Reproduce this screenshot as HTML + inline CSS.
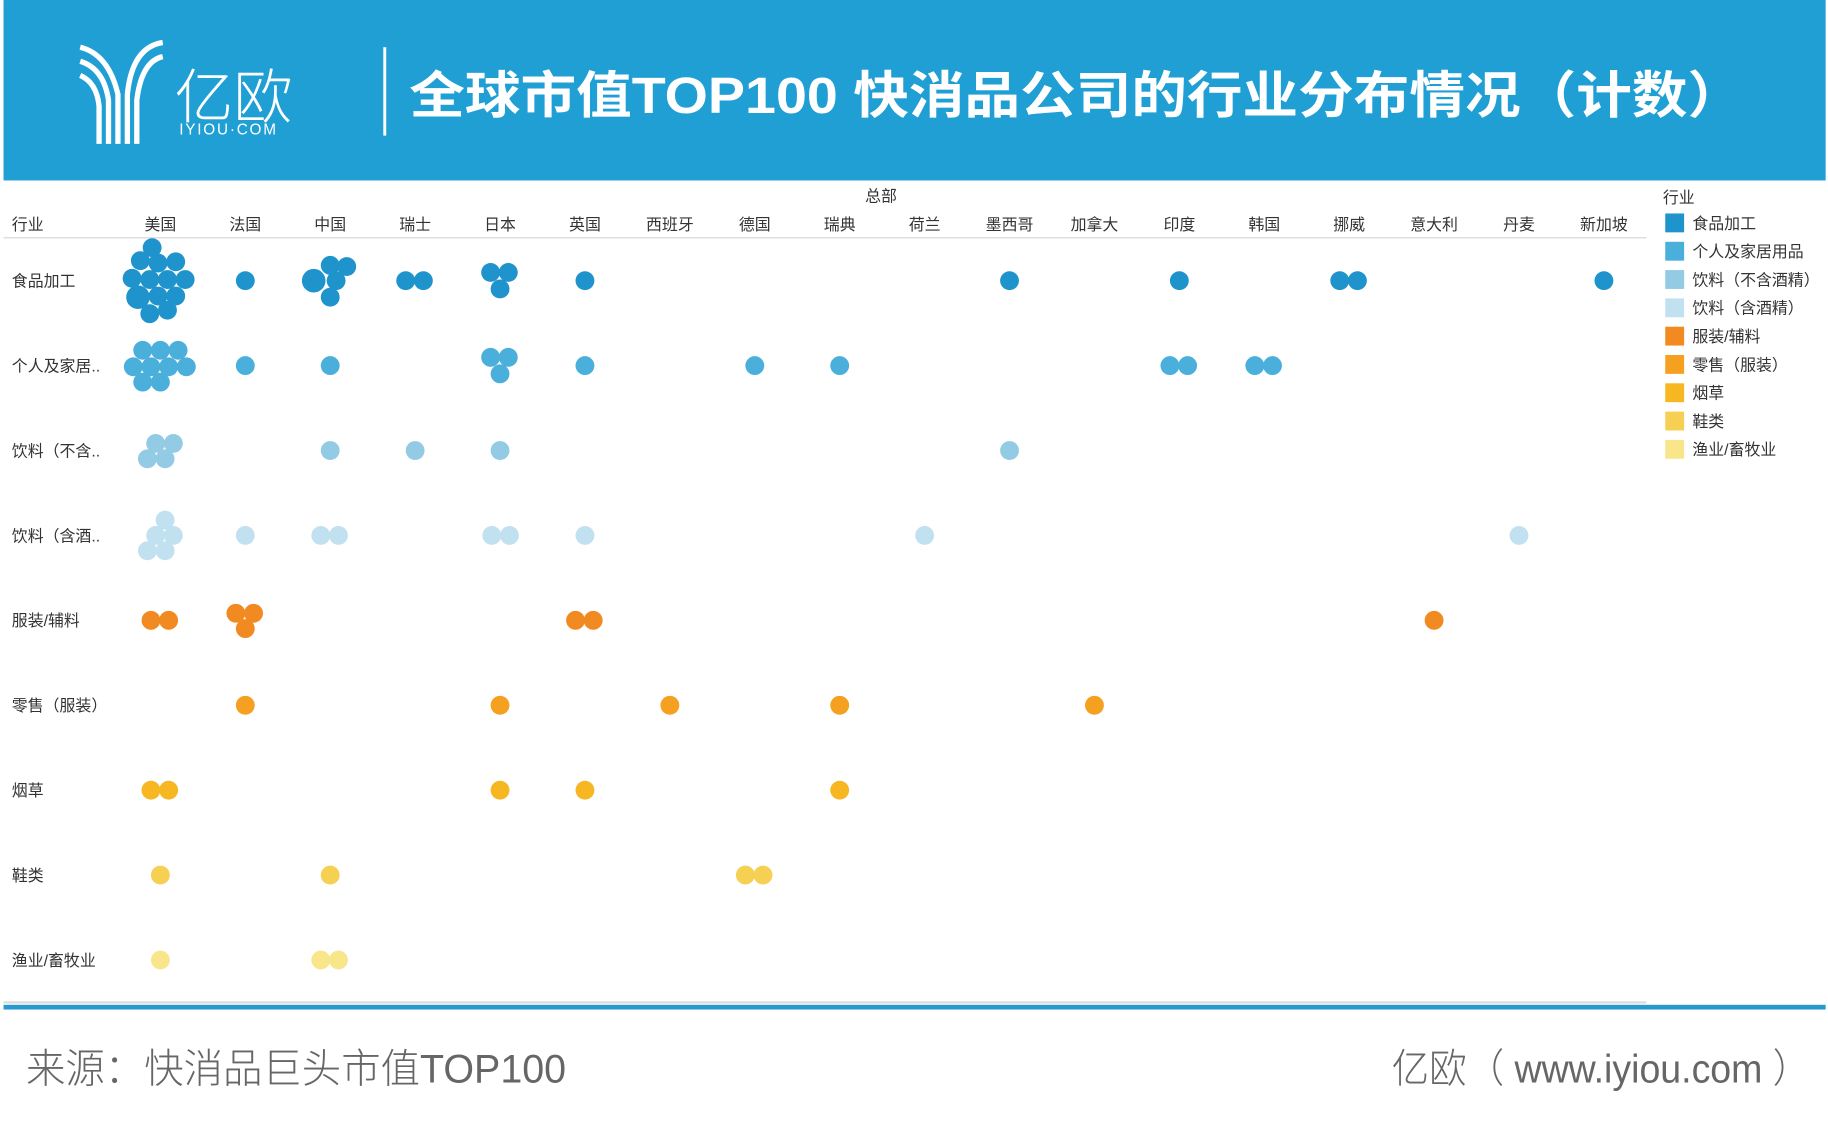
<!DOCTYPE html>
<html><head><meta charset="utf-8"><style>
html,body{margin:0;padding:0;background:#fff;width:1828px;height:1144px;overflow:hidden}
svg{display:block}
text{font-family:"Liberation Sans","Noto Sans CJK SC",sans-serif}
</style></head><body>
<svg width="1828" height="1144" viewBox="0 0 1550 970" xmlns="http://www.w3.org/2000/svg">
<rect x="3" y="0" width="1545" height="153" fill="#1f9fd4"/>
<!-- logo -->
<g fill="none" stroke="#fff" stroke-width="4.5">
<path d="M68 40 Q92 46 100 80 L100 122"/>
<path d="M68 52 Q88 58 92 85 L92 122"/>
<path d="M68 64 Q82 70 84 90 L84 122"/>
<path d="M138 36 Q112 40 108 80 L108 122"/>
<path d="M138 48 Q120 52 116 85 L116 122"/>
</g>
<text x="148" y="100" font-size="50" fill="#fff" font-weight="300">亿欧</text>
<text x="152" y="114" font-size="13" fill="#fff" letter-spacing="1.5">IYIOU·COM</text>
<rect x="325" y="40" width="2.5" height="75" fill="#fff"/>
<text x="347" y="96" font-size="43" font-weight="bold" fill="#fff" textLength="1131" lengthAdjust="spacingAndGlyphs">全球市值TOP100 快消品公司的行业分布情况（计数）</text>
<!-- headers -->
<g font-size="13.5" fill="#333">
<text x="747" y="171" text-anchor="middle">总部</text>
<text x="10" y="195">行业</text>
<g text-anchor="middle">
<text x="136" y="195">美国</text><text x="208" y="195">法国</text><text x="280" y="195">中国</text><text x="352" y="195">瑞士</text><text x="424" y="195">日本</text><text x="496" y="195">英国</text><text x="568" y="195">西班牙</text><text x="640" y="195">德国</text><text x="712" y="195">瑞典</text><text x="784" y="195">荷兰</text><text x="856" y="195">墨西哥</text><text x="928" y="195">加拿大</text><text x="1000" y="195">印度</text><text x="1072" y="195">韩国</text><text x="1144" y="195">挪威</text><text x="1216" y="195">意大利</text><text x="1288" y="195">丹麦</text><text x="1360" y="195">新加坡</text>
</g>
<text x="10" y="243">食品加工</text>
<text x="10" y="315">个人及家居..</text>
<text x="10" y="387">饮料（不含..</text>
<text x="10" y="459">饮料（含酒..</text>
<text x="10" y="531">服装/辅料</text>
<text x="10" y="603">零售（服装）</text>
<text x="10" y="675">烟草</text>
<text x="10" y="747">鞋类</text>
<text x="10" y="819">渔业/畜牧业</text>
</g>
<rect x="3" y="201" width="1393" height="1.2" fill="#ddd"/>
<rect x="3" y="849" width="1393" height="2" fill="#ddd"/>
<rect x="3" y="852" width="1545" height="4" fill="#2899cc"/>
<!-- food -->
<g fill="#1f93cc">
<circle cx="129" cy="210" r="8"/><circle cx="119" cy="221" r="8"/><circle cx="134" cy="223" r="8"/><circle cx="149" cy="222" r="8"/>
<circle cx="112" cy="236" r="8"/><circle cx="127" cy="237" r="8"/><circle cx="142" cy="237" r="8"/><circle cx="157" cy="237" r="8"/>
<circle cx="117" cy="252" r="10"/><circle cx="134" cy="251" r="8"/><circle cx="149" cy="251" r="8"/><circle cx="127" cy="266" r="8"/><circle cx="142" cy="263" r="8"/>
<circle cx="208" cy="238" r="8"/>
<circle cx="266" cy="238" r="10"/><circle cx="280" cy="225" r="8"/><circle cx="294" cy="226" r="8"/><circle cx="285" cy="238" r="8"/><circle cx="280" cy="252" r="8"/>
<circle cx="344" cy="238" r="8"/><circle cx="359" cy="238" r="8"/>
<circle cx="416" cy="231" r="8"/><circle cx="431" cy="231" r="8"/><circle cx="424" cy="245" r="8"/>
<circle cx="496" cy="238" r="8"/><circle cx="856" cy="238" r="8"/><circle cx="1000" cy="238" r="8"/>
<circle cx="1136" cy="238" r="8"/><circle cx="1151" cy="238" r="8"/><circle cx="1360" cy="238" r="8"/>
</g>
<!-- personal -->
<g fill="#4bafdc">
<circle cx="121" cy="297" r="8"/><circle cx="136" cy="297" r="8"/><circle cx="151" cy="297" r="8"/>
<circle cx="113" cy="311" r="8"/><circle cx="128" cy="311" r="8"/><circle cx="143" cy="311" r="8"/><circle cx="158" cy="311" r="8"/>
<circle cx="121" cy="324" r="8"/><circle cx="136" cy="324" r="8"/>
<circle cx="208" cy="310" r="8"/><circle cx="280" cy="310" r="8"/>
<circle cx="416" cy="303" r="8"/><circle cx="431" cy="303" r="8"/><circle cx="424" cy="317" r="8"/>
<circle cx="496" cy="310" r="8"/><circle cx="640" cy="310" r="8"/><circle cx="712" cy="310" r="8"/>
<circle cx="992" cy="310" r="8"/><circle cx="1007" cy="310" r="8"/><circle cx="1064" cy="310" r="8"/><circle cx="1079" cy="310" r="8"/>
</g>
<g fill="#93cbe4">
<circle cx="132" cy="376" r="8"/><circle cx="147" cy="376" r="8"/><circle cx="125" cy="389" r="8"/><circle cx="140" cy="389" r="8"/>
<circle cx="280" cy="382" r="8"/><circle cx="352" cy="382" r="8"/><circle cx="424" cy="382" r="8"/><circle cx="856" cy="382" r="8"/>
</g>
<g fill="#c2e1f0">
<circle cx="140" cy="441" r="8"/><circle cx="132" cy="454" r="8"/><circle cx="147" cy="454" r="8"/><circle cx="125" cy="467" r="8"/><circle cx="140" cy="467" r="8"/>
<circle cx="208" cy="454" r="8"/><circle cx="272" cy="454" r="8"/><circle cx="287" cy="454" r="8"/>
<circle cx="417" cy="454" r="8"/><circle cx="432" cy="454" r="8"/><circle cx="496" cy="454" r="8"/><circle cx="784" cy="454" r="8"/><circle cx="1288" cy="454" r="8"/>
</g>
<g fill="#f28a22">
<circle cx="128" cy="526" r="8"/><circle cx="143" cy="526" r="8"/>
<circle cx="200" cy="520" r="8"/><circle cx="215" cy="520" r="8"/><circle cx="208" cy="533" r="8"/>
<circle cx="488" cy="526" r="8"/><circle cx="503" cy="526" r="8"/><circle cx="1216" cy="526" r="8"/>
</g>
<g fill="#f5a020">
<circle cx="208" cy="598" r="8"/><circle cx="424" cy="598" r="8"/><circle cx="568" cy="598" r="8"/><circle cx="712" cy="598" r="8"/><circle cx="928" cy="598" r="8"/>
</g>
<g fill="#f6b722">
<circle cx="128" cy="670" r="8"/><circle cx="143" cy="670" r="8"/><circle cx="424" cy="670" r="8"/><circle cx="496" cy="670" r="8"/><circle cx="712" cy="670" r="8"/>
</g>
<g fill="#f6d052">
<circle cx="136" cy="742" r="8"/><circle cx="280" cy="742" r="8"/><circle cx="632" cy="742" r="8"/><circle cx="647" cy="742" r="8"/>
</g>
<g fill="#f9e68a">
<circle cx="136" cy="814" r="8"/><circle cx="272" cy="814" r="8"/><circle cx="287" cy="814" r="8"/>
</g>
<!-- legend -->
<g font-size="13.5" fill="#333">
<text x="1410" y="172">行业</text>
<rect x="1412" y="181" width="16" height="16" fill="#1f93cc"/><text x="1435" y="194">食品加工</text>
<rect x="1412" y="205" width="16" height="16" fill="#4bafdc"/><text x="1435" y="218">个人及家居用品</text>
<rect x="1412" y="229" width="16" height="16" fill="#93cbe4"/><text x="1435" y="242">饮料（不含酒精）</text>
<rect x="1412" y="253" width="16" height="16" fill="#c2e1f0"/><text x="1435" y="266">饮料（含酒精）</text>
<rect x="1412" y="277" width="16" height="16" fill="#f28a22"/><text x="1435" y="290">服装/辅料</text>
<rect x="1412" y="301" width="16" height="16" fill="#f5a020"/><text x="1435" y="314">零售（服装）</text>
<rect x="1412" y="325" width="16" height="16" fill="#f6b722"/><text x="1435" y="338">烟草</text>
<rect x="1412" y="349" width="16" height="16" fill="#f6d052"/><text x="1435" y="362">鞋类</text>
<rect x="1412" y="373" width="16" height="16" fill="#f9e68a"/><text x="1435" y="386">渔业/畜牧业</text>
</g>
<!-- footer -->
<text x="22" y="918" font-size="34" fill="#666" font-weight="300" textLength="458" lengthAdjust="spacingAndGlyphs">来源：快消品巨头市值TOP100</text>
<text x="1535" y="918" font-size="34" fill="#666" font-weight="300" text-anchor="end" textLength="355" lengthAdjust="spacingAndGlyphs">亿欧（ www.iyiou.com ）</text>
</svg>
</body></html>
